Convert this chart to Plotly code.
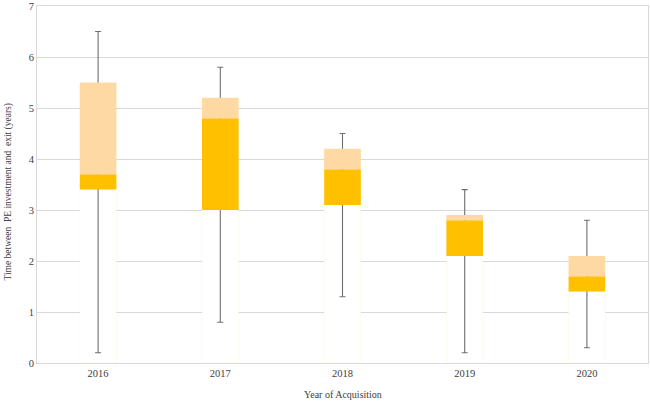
import plotly.graph_objects as go

years = ["2016", "2017", "2018", "2019", "2020"]
mins = [0.2, 0.8, 1.3, 0.2, 0.3]
q1 = [3.4, 3.0, 3.1, 2.1, 1.4]
medians = [3.7, 4.8, 3.8, 2.8, 1.7]
q3 = [5.5, 5.2, 4.2, 2.9, 2.1]
maxs = [6.5, 5.8, 4.5, 3.4, 2.8]
ytick_vals = [0, 1, 2, 3, 4, 5, 6, 7]

dark = "#FFC000"
light = "#FFD9A3"
whisk = "#6f6f6f"

fig = go.Figure()
# white lower segment (0 -> Q1)
fig.add_trace(go.Bar(x=years, y=q1, base=0, marker=dict(color="white",
                     line=dict(color="rgba(255,192,0,0.08)", width=1)),
                     width=0.3, showlegend=False, hoverinfo="skip"))
# transparent carrier for whiskers (min -> max)
fig.add_trace(go.Bar(x=years, y=maxs, base=0,
                     marker=dict(color="rgba(0,0,0,0)", line=dict(width=0)),
                     width=0.3, showlegend=False, hoverinfo="skip",
                     error_y=dict(type="data", symmetric=False,
                                  array=[0] * len(years),
                                  arrayminus=[mx - mn for mx, mn in zip(maxs, mins)],
                                  color=whisk, thickness=1.1, width=3)))
# Q1 -> median
fig.add_trace(go.Bar(x=years, y=[m - a for m, a in zip(medians, q1)], base=q1,
                     marker=dict(color=dark, line=dict(width=0)),
                     width=0.3, showlegend=False))
# median -> Q3
fig.add_trace(go.Bar(x=years, y=[b - m for b, m in zip(q3, medians)], base=medians,
                     marker=dict(color=light, line=dict(width=0)),
                     width=0.3, showlegend=False))

font = "Liberation Serif, Times New Roman, serif"
fig.update_layout(
    barmode="overlay",
    width=650, height=403,
    margin=dict(l=37, r=2, t=6, b=40),
    plot_bgcolor="white", paper_bgcolor="white",
    font=dict(family=font, size=10, color="#404040"),
    xaxis=dict(type="category", showgrid=False, showline=True, linecolor="#d9d9d9",
               mirror=True, ticks="", automargin=False,
               tickfont=dict(size=10.5, color="#404040")),
    yaxis=dict(range=[0, 7], tickvals=ytick_vals, showgrid=True, gridcolor="#d9d9d9",
               gridwidth=1, showline=True, linecolor="#d9d9d9", mirror=True,
               zeroline=False, ticks="", automargin=False, ticklabeloverflow="allow",
               tickfont=dict(size=10.5, color="#404040")),
    annotations=[
        dict(text="Year of Acquisition", xref="paper", yref="paper",
             x=0.5, y=0, yshift=-31, showarrow=False, yanchor="middle",
             font=dict(size=10, color="#404040")),
        dict(text="Time between  PE investment and  exit (years)", xref="paper",
             yref="paper", x=0, xshift=-29, y=0.5, yshift=-8, textangle=-90,
             showarrow=False, xanchor="center", font=dict(size=9.5, color="#404040")),
    ],
)

fig.write_html("out.html", config={"displayModeBar": False},
               post_script="document.body.style.margin='0';document.body.style.overflow='hidden';")
